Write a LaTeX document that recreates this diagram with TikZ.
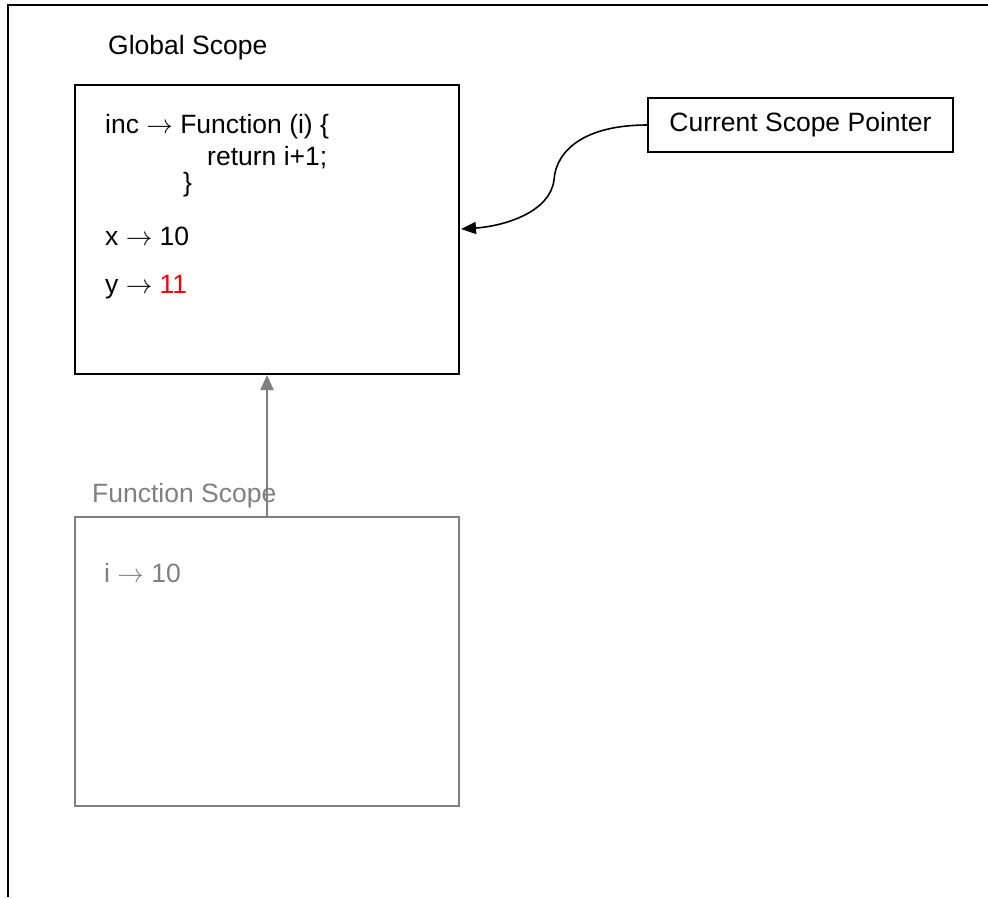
\RequirePackage{fix-cm}
\documentclass[tikz,border=0pt]{standalone}
\usepackage{fontspec}
\setmainfont{Liberation Sans}
\usetikzlibrary{arrows.meta}
\definecolor{fgray}{HTML}{808080}
\newcommand{\maparrow}{\ensuremath{\rightarrow}}
\begin{document}
\begin{tikzpicture}[x=1pt,y=-1pt,
  every node/.style={font=\fontsize{26.5}{30}\selectfont},
  txt/.style={anchor=base west,inner sep=0pt},
  scopebox/.style={draw,line width=2pt,minimum width=384pt,minimum height=289pt,inner sep=0pt},
  ptrbox/.style={draw,line width=1.6pt,minimum width=305pt,minimum height=54pt,inner sep=0pt}]
\useasboundingbox (0,0) rectangle (988,897);
% outer frame (top and left edges)
\coordinate (fr1) at (988,5);
\coordinate (fr2) at (8,5);
\coordinate (fr3) at (8,897);
\draw[line width=2pt] (fr1) -- (fr2) -- (fr3);
% global scope
\node[txt] (gtitle) at (108,54) {Global Scope};
\node[scopebox] (glob) at (267,229.5) {};
\node[txt] (l1) at (105,133) {inc \maparrow{} Function (i) \{};
\node[txt] (l2) at (207,165) {return i+1;};
\node[txt] (l3) at (183,191) {\}};
\node[txt] (l4) at (105,245) {x \maparrow{} 10};
\node[txt] (l5) at (105,293) {y \maparrow{} \textcolor{red}{11}};
% pointer
\node[ptrbox] (csp) at (800.5,125) {Current Scope Pointer};
\coordinate (gin) at (461,229);
\coordinate (kink) at (554,180);
\draw[line width=1.6pt,-{Triangle[length=15pt,width=12pt]}]
  (csp.west) .. controls (585,125) and (556,150) .. (kink)
  .. controls (550,212) and (505,226) .. (gin);
% function scope
\node[txt,text=fgray] (ftitle) at (92,502) {Function Scope};
\node[scopebox,draw=fgray] (func) at (267,661) {};
\node[txt,text=fgray] (fl1) at (104,582) {i \maparrow{} 10};
\coordinate (fup) at (267,375);
\draw[fgray,line width=2pt,-{Triangle[length=15pt,width=13pt]}]
  (func.north -| fup) -- (fup);
\end{tikzpicture}
\end{document}
